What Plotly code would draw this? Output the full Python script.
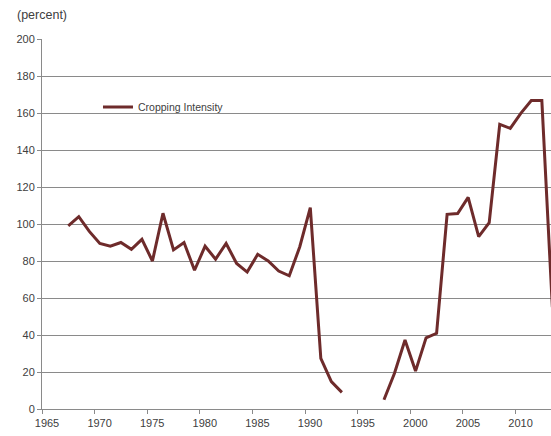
import plotly.graph_objects as go

# Cropping intensity by year (percent); None marks years with no data
years = list(range(1967, 2014))
cropping_intensity = [
    99, 104, 96, 89.5, 88, 90, 86.3, 91.7, 80, 105.8,
    86, 90, 75, 88, 81, 89.5, 78.7, 74, 83.6, 80,
    74.6, 72, 87.7, 108.8, 27.4, 14.8, 9, None, None, None,
    5, 19.3, 37.3, 20.5, 38.5, 40.9, 105.2, 105.7, 114.4, 93.2,
    100.7, 153.9, 151.7, 159.8, 166.7, 166.7, 55,
]
y_ticks = [0, 20, 40, 60, 80, 100, 120, 140, 160, 180, 200]

# each annual value is plotted at mid-year
x_dates = [f"{y}-07-01" for y in years]

fig = go.Figure()
fig.add_trace(go.Scatter(
    x=x_dates,
    y=cropping_intensity,
    mode="lines",
    name="Cropping Intensity",
    connectgaps=False,
    line=dict(color="#6e2b2b", width=3),
))

axis_grey = "#8a8a8a"
fig.update_layout(
    width=551,
    height=436,
    margin=dict(l=42, r=0, t=39, b=27),
    paper_bgcolor="white",
    plot_bgcolor="white",
    font=dict(family="Liberation Sans, Arial, sans-serif", size=11, color="#404040"),
    showlegend=True,
    legend=dict(
        x=0.11, y=0.816, xanchor="left", yanchor="middle",
        bgcolor="rgba(0,0,0,0)",
        font=dict(size=10.5, color="#404040"),
        itemwidth=30,
    ),
    xaxis=dict(
        type="date",
        range=["1965-01-01", "2013-05-15"],
        tick0="1965-01-01",
        dtick="M60",
        tickformat="%Y",
        ticks="outside",
        ticklen=4,
        tickcolor=axis_grey,
        ticklabelshift=5,
        showgrid=False,
        showline=True,
        linecolor=axis_grey,
        linewidth=1,
        zeroline=False,
    ),
    yaxis=dict(
        range=[0, 200],
        tickvals=y_ticks,
        ticks="outside",
        ticklen=4,
        tickcolor=axis_grey,
        showgrid=True,
        gridcolor=axis_grey,
        gridwidth=1,
        showline=True,
        linecolor=axis_grey,
        linewidth=1,
        zeroline=False,
    ),
    annotations=[dict(
        text="(percent)",
        xref="paper", yref="paper",
        x=-0.053, y=1.0, yshift=24,
        xanchor="left", yanchor="middle",
        showarrow=False,
        font=dict(size=12.5, color="#404040"),
    )],
)

fig.write_html("out.html")
